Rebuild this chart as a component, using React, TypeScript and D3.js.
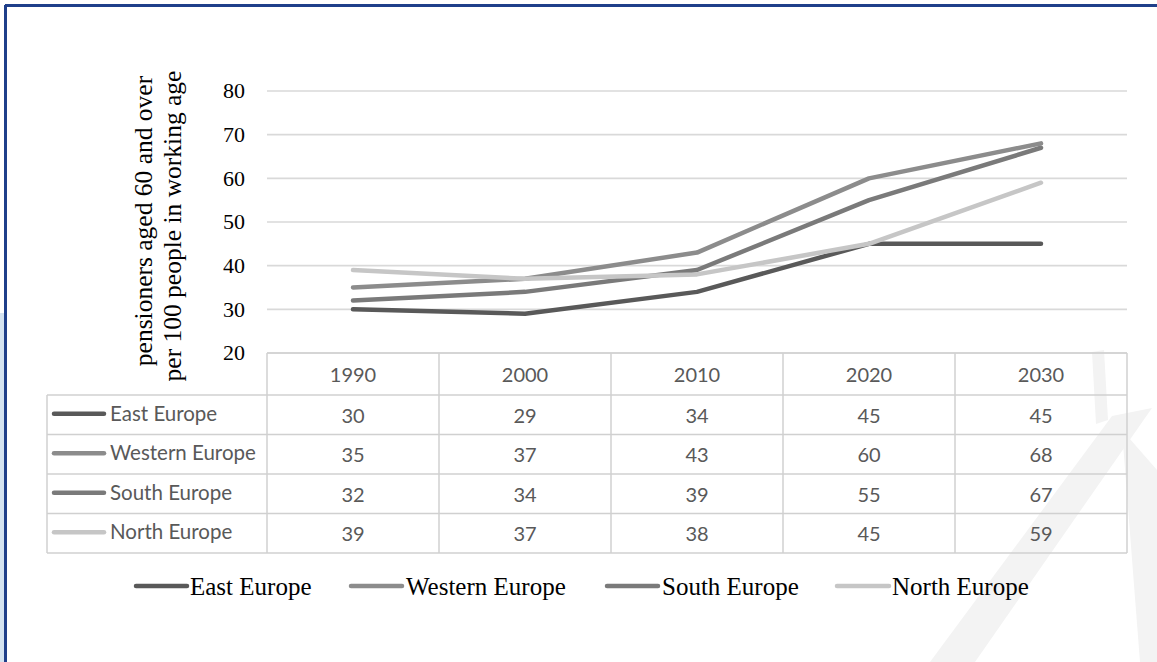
import * as d3 from "d3";

const years = ["1990", "2000", "2010", "2020", "2030"];
const seriesNames = ["East Europe", "Western Europe", "South Europe", "North Europe"];
const eastEurope = [30, 29, 34, 45, 45];
const westernEurope = [35, 37, 43, 60, 68];
const southEurope = [32, 34, 39, 55, 67];
const northEurope = [39, 37, 38, 45, 59];
const yTicks = [20, 30, 40, 50, 60, 70, 80];
const seriesColors = ["#595959", "#8c8c8c", "#7a7a7a", "#c6c6c6"];

const allSeries = [eastEurope, westernEurope, southEurope, northEurope];

const W = 1157;
const H = 662;
const plotLeft = 267;
const plotRight = 1127;
const plotTop = 91;
const plotBottom = 353;
const rowH = 39.5;
const tableLeft = 47;
const serif = "'Liberation Serif', 'Times New Roman', serif";
const sans = "Lato, 'Open Sans', sans-serif";

export default function App() {
  const x = d3.scaleBand<string>().domain(years).range([plotLeft, plotRight]).padding(0);
  const y = d3.scaleLinear().domain([20, 80]).range([plotBottom, plotTop]);
  const cx = (yr: string) => (x(yr) ?? 0) + x.bandwidth() / 2;

  const line = d3
    .line<number>()
    .x((_, i) => cx(years[i]))
    .y((v) => y(v));

  const headerH = 42;
  const tableTop = plotBottom;
  const bodyTop = tableTop + headerH;
  const tableBottom = bodyTop + rowH * seriesNames.length;

  // legend swatch start / end and text start
  const legendItems = [
    { sx: 136, ex: 187, tx: 190 },
    { sx: 351, ex: 402, tx: 406 },
    { sx: 607, ex: 658, tx: 662 },
    { sx: 837, ex: 889, tx: 892 },
  ];

  return (
    <svg
      width={W}
      height={H}
      style={{ position: "absolute", left: 0, top: 0, background: "#fff" }}
    >
      {/* faint watermark */}
      <g fill="#f3f3f3">
        <path d="M1112 416 L1152 408 L975 662 L930 662 Z" />
        <path d="M1092 352 L1104 350 L1108 420 L1096 424 Z" />
        <path d="M1122 430 L1157 470 L1157 662 L1140 662 Z" />
        <path d="M0 322 L4 320 L4 384 L0 386 Z" />
      </g>

      {/* frame */}
      <rect x={0} y={313} width={4} height={H - 313} fill="#d4e3f1" />
      <line x1={5} y1={5.5} x2={W} y2={5.5} stroke="#1f3f8a" strokeWidth={3} />
      <line x1={5.5} y1={5} x2={5.5} y2={H} stroke="#1f3f8a" strokeWidth={3} />

      {/* gridlines */}
      {yTicks.map((t) => (
        <line
          key={t}
          x1={plotLeft}
          x2={plotRight}
          y1={y(t)}
          y2={y(t)}
          stroke="#d9d9d9"
          strokeWidth={1.6}
        />
      ))}
      {yTicks.map((t) => (
        <text
          key={"l" + t}
          x={245}
          y={y(t)}
          dy="0.34em"
          textAnchor="end"
          fontFamily={serif}
          fontSize={22}
          fill="#000"
        >
          {t}
        </text>
      ))}

      {/* y title */}
      <text
        transform={`translate(152, 221) rotate(-90)`}
        textAnchor="middle"
        fontFamily={serif}
        fontSize={25.5}
        fill="#000"
      >
        pensioners aged 60 and over
      </text>
      <text
        transform={`translate(181, 226) rotate(-90)`}
        textAnchor="middle"
        fontFamily={serif}
        fontSize={25.5}
        fill="#000"
      >
        per 100 people in working age
      </text>

      {/* lines */}
      {allSeries.map((s, i) => (
        <path
          key={seriesNames[i]}
          d={line(s) ?? ""}
          fill="none"
          stroke={seriesColors[i]}
          strokeWidth={4.5}
          strokeLinecap="round"
          strokeLinejoin="round"
        />
      ))}

      {/* data table */}
      <g stroke="#d0d0d0" strokeWidth={1.5} fill="none">
        <line x1={plotLeft} x2={plotRight} y1={tableTop} y2={tableTop} />
        {d3.range(seriesNames.length + 1).map((r) => (
          <line
            key={"h" + r}
            x1={tableLeft}
            x2={plotRight}
            y1={bodyTop + r * rowH}
            y2={bodyTop + r * rowH}
          />
        ))}
        <line x1={tableLeft} x2={tableLeft} y1={bodyTop} y2={tableBottom} />
        {years.map((yr) => (
          <line key={"v" + yr} x1={x(yr)} x2={x(yr)} y1={tableTop} y2={tableBottom} />
        ))}
        <line x1={plotRight} x2={plotRight} y1={tableTop} y2={tableBottom} />
      </g>

      {years.map((yr) => (
        <text
          key={"y" + yr}
          x={cx(yr)}
          y={tableTop + headerH / 2 + 1}
          dy="0.35em"
          textAnchor="middle"
          fontFamily={sans}
          fontSize={20}
          fill="#595959"
        >
          {yr}
        </text>
      ))}

      {seriesNames.map((name, r) => {
        const rowMid = bodyTop + r * rowH + rowH / 2;
        return (
          <g key={"row" + name}>
            <line
              x1={54}
              x2={104}
              y1={rowMid - 1}
              y2={rowMid - 1}
              stroke={seriesColors[r]}
              strokeWidth={4.5}
              strokeLinecap="round"
            />
            <text
              x={110}
              y={rowMid}
              dy="0.3em"
              fontFamily={sans}
              fontSize={20.5}
              fill="#595959"
            >
              {name}
            </text>
            {allSeries[r].map((v, i) => (
              <text
                key={years[i]}
                x={cx(years[i])}
                y={rowMid + 1}
                dy="0.35em"
                textAnchor="middle"
                fontFamily={sans}
                fontSize={20}
                fill="#595959"
              >
                {v}
              </text>
            ))}
          </g>
        );
      })}

      {/* legend */}
      {seriesNames.map((name, i) => (
        <g key={"lg" + name}>
          <line
            x1={legendItems[i].sx}
            x2={legendItems[i].ex}
            y1={586}
            y2={586}
            stroke={seriesColors[i]}
            strokeWidth={4.5}
            strokeLinecap="round"
          />
          <text
            x={legendItems[i].tx}
            y={595}
            fontFamily={serif}
            fontSize={25}
            fill="#000"
          >
            {name}
          </text>
        </g>
      ))}
    </svg>
  );
}
